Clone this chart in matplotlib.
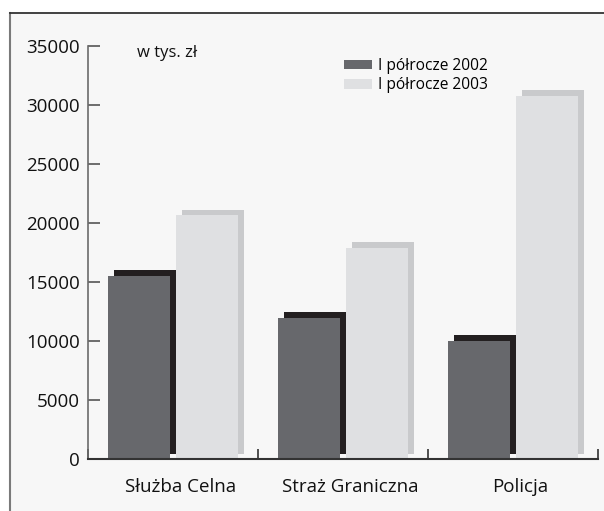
import matplotlib
matplotlib.use('Agg')
import matplotlib.pyplot as plt
import matplotlib.transforms as mtransforms
from matplotlib.patches import Patch, Rectangle
from matplotlib.lines import Line2D

categories = ['Służba Celna', 'Straż Graniczna', 'Policja']
series_names = ['I półrocze 2002', 'I półrocze 2003']
values_2002 = [15500, 11950, 10000]
values_2003 = [20650, 17900, 30750]
yticks = [0, 5000, 10000, 15000, 20000, 25000, 30000, 35000]
unit_label = 'w tys. zł'

dark_front = '#67686c'
dark_shadow = '#231f20'
light_front = '#dfe0e2'
light_shadow = '#c9cacc'

plt.rcParams['font.family'] = ['Open Sans', 'DejaVu Sans']

W, H = 604, 511
fig = plt.figure(figsize=(W / 100, H / 100), dpi=100)
fig.patch.set_facecolor('white')

# panel background and frame
fig.patches.append(Rectangle((10 / W, 0), 1, (H - 13) / H, transform=fig.transFigure,
                             facecolor='#f7f7f7', edgecolor='none', zorder=-10))
fig.add_artist(Line2D([10 / W, 10 / W], [0, (H - 13) / H], color='#7a7a7a', lw=1.5))
fig.add_artist(Line2D([10 / W, 1], [(H - 13) / H] * 2, color='#333333', lw=1.3))

ax = fig.add_axes([88 / W, (H - 459) / H, (598 - 88) / W, (459 - 45.7) / H])
ax.set_facecolor('none')
ax.set_xlim(0, 3)
ax.set_ylim(0, 35000)

x = [i + 0.5 for i in range(len(categories))]
bw = 62 / 170
off = 0.2
shadow_tr = mtransforms.offset_copy(ax.transData, fig=fig, x=6, y=5.5, units='dots')

xs_d = [v - off for v in x]
xs_l = [v + off for v in x]

sd = ax.bar(xs_d, values_2002, bw, color=dark_shadow, zorder=1)
for b in sd:
    b.set_transform(shadow_tr)
ax.bar(xs_d, values_2002, bw, color=dark_front, zorder=1.1)
sl = ax.bar(xs_l, values_2003, bw, color=light_shadow, zorder=1.2)
for b in sl:
    b.set_transform(shadow_tr)
ax.bar(xs_l, values_2003, bw, color=light_front, zorder=1.3)

for s in ['top', 'right']:
    ax.spines[s].set_visible(False)
ax.spines['left'].set_color('#6b6b6b')
ax.spines['left'].set_linewidth(1.2)
ax.spines['bottom'].set_color('#333333')
ax.spines['bottom'].set_linewidth(1.5)
ax.spines['left'].set_zorder(3)
ax.spines['bottom'].set_zorder(3)

ax.set_yticks(yticks)
ax.set_yticklabels([str(v) for v in yticks])
ax.tick_params(axis='y', direction='in', length=8.6, width=1.2, color='#555555',
               labelsize=13.5, pad=6, labelcolor='#111111')
ax.set_xticks([0, 1, 2, 3])
ax.set_xticklabels([])
ax.tick_params(axis='x', which='major', direction='in', length=7.2, width=1.2, color='#333333')
ax.set_xticks([v + 0.045 for v in x], minor=True)
ax.set_xticklabels(categories, minor=True)
ax.tick_params(axis='x', which='minor', length=0, labelsize=13.5, pad=13.5, labelcolor='#111111')

handles = [Patch(facecolor=dark_front, edgecolor='none'), Patch(facecolor=light_front, edgecolor='none')]
ax.legend(handles, series_names, loc='upper left', bbox_to_anchor=(344 / W, 1 - 58 / H),
          bbox_transform=fig.transFigure, frameon=False, fontsize=11.2, handlelength=1.8,
          handleheight=0.6, handletextpad=0.4, borderpad=0, borderaxespad=0, labelspacing=0.2)

fig.text(137 / W, 1 - 53 / H, unit_label, fontsize=12, va='center', ha='left', color='#111111')

fig.savefig('out.png', dpi=100)
